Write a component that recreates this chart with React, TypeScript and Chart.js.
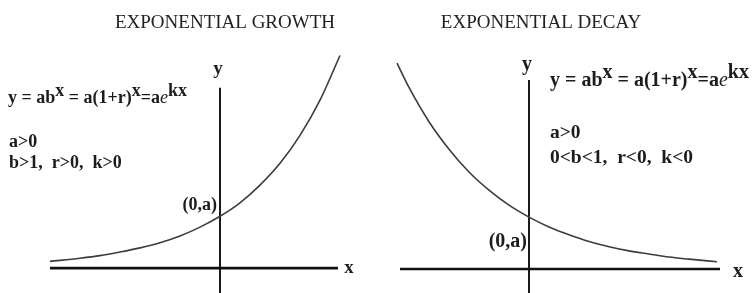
import React, { useEffect, useRef } from "react";
import { Chart, registerables } from "chart.js";

Chart.register(...registerables);

// ---- data ----
const growthX = [-4.25, -3.5, -3, -2.5, -2, -1.5, -1, -0.5, 0, 0.5, 1, 1.5, 2, 2.5, 3];
const growthY = [0.13, 0.19, 0.24, 0.31, 0.39, 0.49, 0.62, 0.79, 1.0, 1.26, 1.6, 2.02, 2.56, 3.24, 4.1];
const growthAxisXRange = [-4.25, 2.95];
const growthAxisYRange = [-0.48, 3.48];

const decayX = [-3.3, -3, -2.5, -2, -1.5, -1, -0.5, 0, 0.5, 1, 1.5, 2, 2.5, 3, 3.5, 4, 4.7];
const decayY = [3.97, 3.5, 2.84, 2.31, 1.87, 1.52, 1.23, 1.0, 0.81, 0.66, 0.53, 0.43, 0.35, 0.29, 0.23, 0.19, 0.14];
const decayAxisXRange = [-3.225, 4.775];
const decayAxisYRange = [-0.463, 3.645];

const growthTitle = "EXPONENTIAL GROWTH";
const decayTitle = "EXPONENTIAL DECAY";
const growthConditions = ["a>0", "b>1,  r>0,  k>0"];
const decayConditions = ["a>0", "0<b<1,  r<0,  k<0"];
const pointLabel = "(0,a)";

type Seg = { t: string; sup?: boolean; italic?: boolean };
const formula: Seg[] = [
  { t: "y = ab" },
  { t: "x", sup: true },
  { t: " = a(1+r)" },
  { t: "x", sup: true },
  { t: "=a" },
  { t: "e", italic: true },
  { t: "kx", sup: true },
];

const SERIF = '"Liberation Serif", "Times New Roman", serif';

function drawFormula(ctx: CanvasRenderingContext2D, x: number, y: number, size: number) {
  let cx = x;
  ctx.textBaseline = "alphabetic";
  ctx.textAlign = "left";
  for (const s of formula) {
    ctx.font = s.italic ? `italic ${size}px ${SERIF}` : `bold ${size}px ${SERIF}`;
    const yy = s.sup ? y - size * 0.38 : y;
    ctx.fillText(s.t, cx, yy);
    cx += ctx.measureText(s.t).width;
  }
}

type PanelCfg = {
  title: string;
  titleX: number;
  formulaX: number;
  formulaY: number;
  formulaSize: number;
  condX: number;
  condY: number[];
  condSize: number;
  yLabel: [number, number];
  xLabel: [number, number];
  labelSize: number;
  pointLabelPos: [number, number];
  pointLabelSize: number;
};

function makeTextPlugin(cfg: PanelCfg) {
  return {
    id: "texts",
    afterDraw(chart: any) {
      const ctx: CanvasRenderingContext2D = chart.ctx;
      ctx.save();
      ctx.fillStyle = "#222";
      ctx.font = `19px ${SERIF}`;
      ctx.textAlign = "center";
      ctx.textBaseline = "alphabetic";
      ctx.fillText(cfg.title, cfg.titleX, 28);

      ctx.fillStyle = "#1c1c1c";
      drawFormula(ctx, cfg.formulaX, cfg.formulaY, cfg.formulaSize);

      ctx.font = `bold ${cfg.condSize}px ${SERIF}`;
      ctx.textAlign = "left";
      const conds = cfg.title === growthTitle ? growthConditions : decayConditions;
      conds.forEach((c, i) => ctx.fillText(c, cfg.condX, cfg.condY[i]));

      ctx.font = `bold ${cfg.labelSize}px ${SERIF}`;
      ctx.textAlign = "center";
      ctx.fillText("y", cfg.yLabel[0], cfg.yLabel[1]);
      ctx.fillText("x", cfg.xLabel[0], cfg.xLabel[1]);

      ctx.font = `bold ${cfg.pointLabelSize}px ${SERIF}`;
      ctx.textAlign = "right";
      ctx.fillText(pointLabel, cfg.pointLabelPos[0], cfg.pointLabelPos[1]);
      ctx.restore();
    },
  };
}

function buildChart(
  canvas: HTMLCanvasElement,
  curveX: number[],
  curveY: number[],
  axX: number[],
  axY: number[],
  xmin: number,
  xmax: number,
  ymin: number,
  ymax: number,
  cfg: PanelCfg
) {
  return new Chart(canvas, {
    type: "scatter",
    data: {
      datasets: [
        {
          data: curveX.map((x, i) => ({ x, y: curveY[i] })),
          showLine: true,
          borderColor: "#3c3c3c",
          borderWidth: 1.6,
          pointRadius: 0,
          cubicInterpolationMode: "monotone",
        },
        {
          data: axX.map((x) => ({ x, y: 0 })),
          showLine: true,
          borderColor: "#111",
          borderWidth: 2.6,
          pointRadius: 0,
        },
        {
          data: axY.map((y) => ({ x: 0, y })),
          showLine: true,
          borderColor: "#1a1a1a",
          borderWidth: 2,
          pointRadius: 0,
        },
      ],
    },
    options: {
      responsive: false,
      maintainAspectRatio: false,
      animation: false,
      devicePixelRatio: 1,
      layout: { padding: 0 },
      plugins: { legend: { display: false }, tooltip: { enabled: false }, title: { display: false } },
      scales: {
        x: { type: "linear", min: xmin, max: xmax, display: false },
        y: { type: "linear", min: ymin, max: ymax, display: false },
      },
    } as any,
    plugins: [makeTextPlugin(cfg)],
  } as any);
}

export default function App() {
  const leftRef = useRef<HTMLCanvasElement>(null);
  const rightRef = useRef<HTMLCanvasElement>(null);

  useEffect(() => {
    const left = buildChart(
      leftRef.current!,
      growthX,
      growthY,
      growthAxisXRange,
      growthAxisYRange,
      -5.5,
      3.9,
      -0.48,
      5.17,
      {
        title: growthTitle,
        titleX: 225,
        formulaX: 8,
        formulaY: 103,
        formulaSize: 18,
        condX: 9,
        condY: [147, 168],
        condSize: 18,
        yLabel: [218, 74],
        xLabel: [349, 273],
        labelSize: 19,
        pointLabelPos: [217, 210],
        pointLabelSize: 18,
      }
    );
    const right = buildChart(
      rightRef.current!,
      decayX,
      decayY,
      decayAxisXRange,
      decayAxisYRange,
      -3.825,
      5.6,
      -0.463,
      5.187,
      {
        title: decayTitle,
        titleX: 541 - 376,
        formulaX: 550 - 376,
        formulaY: 86,
        formulaSize: 20,
        condX: 550 - 376,
        condY: [138, 163],
        condSize: 19.5,
        yLabel: [527 - 376, 70],
        xLabel: [738 - 376, 277],
        labelSize: 20,
        pointLabelPos: [527 - 376, 247],
        pointLabelSize: 20,
      }
    );
    return () => {
      left.destroy();
      right.destroy();
    };
  }, []);

  return (
    <div
      style={{
        position: "fixed",
        left: 0,
        top: 0,
        width: 753,
        height: 293,
        background: "#fff",
        overflow: "hidden",
      }}
    >
      <canvas
        ref={leftRef}
        width={376}
        height={293}
        style={{ position: "absolute", left: 0, top: 0, width: 376, height: 293 }}
      />
      <canvas
        ref={rightRef}
        width={377}
        height={293}
        style={{ position: "absolute", left: 376, top: 0, width: 377, height: 293 }}
      />
    </div>
  );
}
